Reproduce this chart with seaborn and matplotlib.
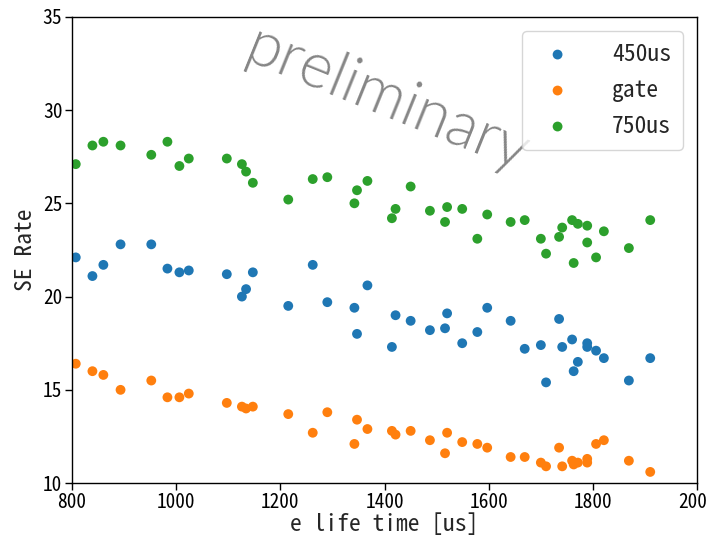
import numpy as np
import pandas as pd
import matplotlib
matplotlib.use("Agg")
import matplotlib.pyplot as plt
import seaborn as sns

# shared x (e life time [us])
life_time = [807, 839, 860, 893, 952, 983, 1006, 1024, 1097, 1126, 1134, 1147,
             1215, 1262, 1290, 1342, 1347, 1367, 1414, 1421, 1450, 1487, 1516,
             1520, 1549, 1578, 1597, 1642, 1669, 1700, 1710, 1735, 1741, 1760,
             1763, 1771, 1789, 1789, 1806, 1821, 1869, 1910]

rate_450us = [22.1, 21.1, 21.7, 22.8, 22.8, 21.5, 21.3, 21.4, 21.2, 20.0, 20.4, 21.3,
              19.5, 21.7, 19.7, 19.4, 18.0, 20.6, 17.3, 19.0, 18.7, 18.2, 18.3,
              19.1, 17.5, 18.1, 19.4, 18.7, 17.2, 17.4, 15.4, 18.8, 17.3, 17.7,
              16.0, 16.5, 17.5, 17.3, 17.1, 16.7, 15.5, 16.7]

rate_gate = [16.4, 16.0, 15.8, 15.0, 15.5, 14.6, 14.6, 14.8, 14.3, 14.1, 14.0, 14.1,
             13.7, 12.7, 13.8, 12.1, 13.4, 12.9, 12.8, 12.6, 12.8, 12.3, 11.6,
             12.7, 12.2, 12.1, 11.9, 11.4, 11.4, 11.1, 10.9, 11.9, 10.9, 11.2,
             11.0, 11.1, 11.3, 11.1, 12.1, 12.3, 11.2, 10.6]

rate_750us = [27.1, 28.1, 28.3, 28.1, 27.6, 28.3, 27.0, 27.4, 27.4, 27.1, 26.7, 26.1,
              25.2, 26.3, 26.4, 25.0, 25.7, 26.2, 24.2, 24.7, 25.9, 24.6, 24.0,
              24.8, 24.7, 23.1, 24.4, 24.0, 24.1, 23.1, 22.3, 23.2, 23.7, 24.1,
              21.8, 23.9, 23.8, 22.9, 22.1, 23.5, 22.6, 24.1]

series_names = ["450us", "gate", "750us"]
series_values = [rate_450us, rate_gate, rate_750us]
colors = ["#1f77b4", "#ff7f0e", "#2ca02c"]

sns.set_style("ticks")
plt.rcParams["font.family"] = ["Noto Sans Mono CJK JP", "Noto Sans CJK JP", "DejaVu Sans"]

fig = plt.figure(figsize=(7.07, 5.41), dpi=100)
ax = fig.add_axes([0.102, 0.107, 0.884, 0.862])

for name, vals, c in zip(series_names, series_values, colors):
    df = pd.DataFrame({"x": life_time, "y": vals})
    sns.scatterplot(data=df, x="x", y="y", ax=ax, color=c, s=50,
                    edgecolor="none", label=name)

ax.set_xlim(800, 2000)
ax.set_ylim(10, 35)
ax.set_xticks([800, 1000, 1200, 1400, 1600, 1800, 2000])
ax.set_yticks([10, 15, 20, 25, 30, 35])
ax.tick_params(labelsize=14, length=5, width=1, colors="black", pad=2)
ax.set_xlabel("e life time [us]", fontsize=17, labelpad=1)
ax.set_ylabel("SE Rate", fontsize=17)
for sp in ax.spines.values():
    sp.set_visible(True)
    sp.set_color("black")
    sp.set_linewidth(1.0)

ax.text(0.505, 0.82, "preliminary", transform=ax.transAxes, rotation=-22,
        fontsize=45, color="#868686", ha="center", va="center",
        family=["Lato", "DejaVu Sans"], fontweight=300, zorder=5)

leg = ax.legend(loc="upper right", fontsize=17, handletextpad=1.3,
                borderpad=0.5, labelspacing=0.55, framealpha=0.8,
                borderaxespad=0.6)

fig.savefig("out.png", dpi=100)
